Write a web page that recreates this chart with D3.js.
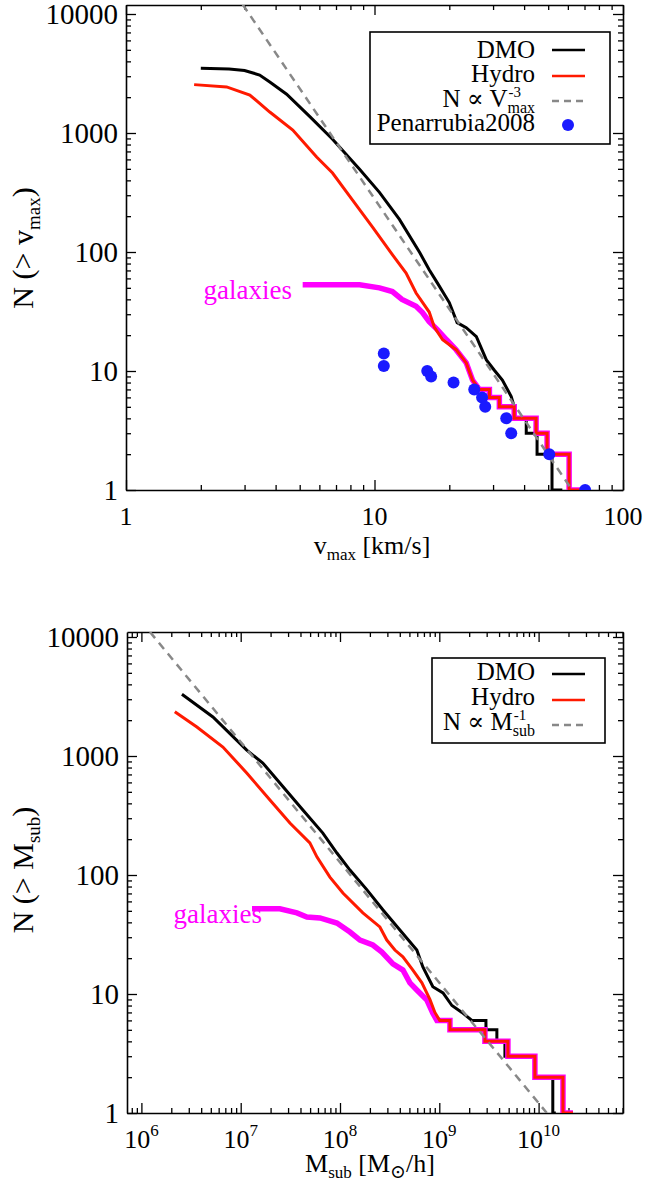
<!DOCTYPE html>
<html><head><meta charset="utf-8">
<script src="https://cdn.jsdelivr.net/npm/d3@7"></script>
<style>
body{margin:0;background:#fff}
svg{display:block}
</style>
</head><body>
<svg id="c" width="646" height="1188"></svg>
<script>
// ---------------- DATA ----------------
// Top panel: cumulative count N(>vmax)
const topDmoV = [2.0, 2.6, 3.0, 3.45, 3.79, 4.43, 5.48, 6.78, 8.71, 10.47, 12.6, 15.2, 16.6, 17.9, 20.0, 21.5, 23.4, 25.7, 28.2, 30.3, 32.7, 35.5, 36.5, 36.5, 40.8, 40.8, 45.1, 45.1, 51.8, 51.8, 57];
const topDmoN = [3500, 3450, 3350, 3070, 2680, 2120, 1380, 885, 495, 317, 188, 99, 71, 55, 37.6, 25.5, 23.1, 19.4, 12.4, 10.2, 8.4, 6.1, 5, 4, 4, 3, 3, 2, 2, 1, 1];
const topHydroV = [1.88, 2.54, 3.15, 3.79, 4.69, 5.85, 6.78, 8.16, 9.82, 11.8, 13.4, 14.7, 16.6, 17.4, 18.8, 21.3, 23.4, 24.8, 26.4, 29.0, 29.0, 31.8, 31.8, 36.5, 36.5, 44.7, 44.7, 49.5, 49.5, 60.7, 60.7, 73];
const topHydroN = [2550, 2440, 2085, 1500, 1060, 628, 461, 273, 162, 95, 66.6, 45.2, 31.3, 23.4, 18.3, 15.1, 11.7, 8.4, 7, 7, 6, 6, 5, 5, 4, 4, 3, 3, 2, 2, 1, 1];
const topGalV = [5.14, 8.71, 10.47, 11.8, 12.9, 14.7, 15.6, 16.6, 17.9, 19.5, 21.3, 23.4, 24.8, 26.4, 29.0, 29.0, 31.8, 31.8, 36.5, 36.5, 44.7, 44.7, 49.5, 49.5, 60.7, 60.7, 73];
const topGalN = [53, 53, 50, 46.5, 40, 35, 31, 26, 22.3, 18.3, 15.1, 11.7, 8.4, 7, 7, 6, 6, 5, 5, 4, 4, 3, 3, 2, 2, 1, 1];
const penV = [10.9, 10.9, 16.3, 16.9, 20.8, 25.2, 27.1, 27.9, 33.9, 35.5, 50.5, 70.4];
const penN = [14, 11, 10, 9, 8, 7, 6, 5, 4, 3, 2, 1];
const topPlawV = [2.95, 62.4];
const topPlawN = [12000, 1];
const topXTicks = [1, 10, 100];
const topXTickLabels = ["1", "10", "100"];
const yTicks = [1, 10, 100, 1000, 10000];
const yTickLabels = ["1", "10", "100", "1000", "10000"];

// Bottom panel: cumulative count N(>Msub)
const botDmoM = [2.56e6, 5.25e6, 1.15e7, 1.67e7, 2.48e7, 4.23e7, 6.72e7, 9.31e7, 1.26e8, 1.87e8, 2.7e8, 4.01e8, 5.94e8, 6.83e8, 8.61e8, 1.09e9, 1.34e9, 1.69e9, 2.13e9, 2.95e9, 2.95e9, 3.8e9, 3.8e9, 4.58e9, 4.58e9, 9.18e9, 9.18e9, 1.39e10, 1.39e10, 1.49e10];
const botDmoN = [3300, 2130, 1120, 873, 593, 352, 225, 153, 110, 75, 51, 34.5, 23.4, 16.9, 11.5, 10.2, 8, 7, 6, 6, 5, 5, 4, 4, 3, 3, 2, 2, 1, 1];
const botHydroM = [2.17e6, 3.62e6, 6.62e6, 1.15e7, 1.97e7, 3.13e7, 4.97e7, 5.85e7, 7.91e7, 1.07e8, 1.7e8, 2.52e8, 2.96e8, 3.57e8, 4.3e8, 5.42e8, 6.68e8, 8.04e8, 9.03e8, 1.01e9, 1.28e9, 1.28e9, 2.88e9, 2.88e9, 4.91e9, 4.91e9, 9.18e9, 9.18e9, 1.76e10, 1.76e10, 2.22e10];
const botHydroN = [2350, 1750, 1190, 720, 427, 273, 186, 142, 96, 70.6, 48, 36.6, 28.4, 23.4, 20.5, 15.9, 12.4, 9, 7, 6, 6, 5, 5, 4, 4, 3, 3, 2, 2, 1, 1];
const botGalM = [1.3e7, 2.48e7, 3.68e7, 4.64e7, 6.28e7, 9.31e7, 1.26e8, 1.59e8, 2.14e8, 2.64e8, 3.41e8, 4.3e8, 5.06e8, 5.94e8, 7.5e8, 8.61e8, 9.46e8, 1.28e9, 1.28e9, 2.88e9, 2.88e9, 4.91e9, 4.91e9, 9.18e9, 9.18e9, 1.76e10, 1.76e10, 2.22e10];
const botGalN = [52, 52, 48, 44.4, 43.6, 39.5, 33.2, 28.4, 25.8, 22.5, 17.9, 15.9, 12.4, 10.8, 8.9, 6.9, 6, 6, 5, 5, 4, 4, 3, 3, 2, 2, 1, 1];
const botPlawM = [1.22e6, 1.21e10];
const botPlawN = [11020, 1];
const botXTicks = [1e6, 1e7, 1e8, 1e9, 1e10];
const botXTickExp = ["6", "7", "8", "9", "10"];

// ---------------- DRAWING ----------------
const SERIF = '"Liberation Serif", Tinos, "Times New Roman", Times, "DejaVu Serif", serif';
const RED = '#ff1a00', MAG = '#ff00ff', BLUE = '#1a1aff', GRAY = '#888888';
const FS_YTICK = 29, FS_XTICK = 26, FS_YTITLE = 30, FS_XTITLE = 26, FS_LEG = 25;
const svg = d3.select('#c');
svg.append('rect').attr('width', 646).attr('height', 1188).attr('fill', '#fff');

function txt(parent) { return parent.append('text').style('font-family', SERIF); }
function isMajor(v) { const l = Math.log10(v); return Math.abs(l - Math.round(l)) < 1e-6; }

function panel(id, x, y) {
  const [x0, x1] = x.range(), [y0, y1] = y.range();
  svg.append('clipPath').attr('id', id).append('rect')
    .attr('x', x0).attr('y', y1).attr('width', x1 - x0).attr('height', y0 - y1);
  const xt = x.ticks(), yt = y.ticks();
  const xMaj = xt.filter(isMajor), xMin = xt.filter(v => !isMajor(v));
  const yMaj = yt.filter(isMajor), yMin = yt.filter(v => !isMajor(v));
  const g = svg.append('g');
  const ax = [
    [d3.axisBottom(x), `translate(0,${y0})`, xMaj, xMin],
    [d3.axisTop(x), `translate(0,${y1})`, xMaj, xMin],
    [d3.axisLeft(y), `translate(${x0},0)`, yMaj, yMin],
    [d3.axisRight(y), `translate(${x1},0)`, yMaj, yMin]
  ];
  ax.forEach(([a, tr, maj, mn]) => {
    g.append('g').attr('transform', tr)
      .call(a.tickValues(maj).tickSize(-10).tickSizeOuter(0).tickFormat(''))
      .call(s => { s.select('.domain').attr('stroke-width', 1.6); s.selectAll('line').attr('stroke-width', 1.3); });
    g.append('g').attr('transform', tr)
      .call(a.tickValues(mn).tickSize(-5).tickSizeOuter(0).tickFormat(''))
      .call(s => { s.select('.domain').remove(); s.selectAll('line').attr('stroke-width', 1.3); });
  });
  svg.append('g').selectAll('text').data(yTicks).join('text')
    .style('font-family', SERIF)
    .attr('x', x0 - 8).attr('y', d => y(d)).attr('dy', '0.34em')
    .attr('text-anchor', 'end').attr('font-size', FS_YTICK).text((d, i) => yTickLabels[i]);
  return svg.append('g').attr('clip-path', `url(#${id})`);
}

function drawLine(g, X, Y, xs, ys, color, width, dash) {
  const line = d3.line().x(d => X(d[0])).y(d => Y(d[1]));
  const p = g.append('path').datum(d3.zip(xs, ys)).attr('d', line)
    .attr('fill', 'none').attr('stroke', color).attr('stroke-width', width)
    .attr('stroke-linejoin', 'miter').attr('stroke-linecap', 'butt');
  if (dash) p.attr('stroke-dasharray', dash);
}

function measure(str, size) {
  const t = txt(svg).attr('font-size', size).text(str);
  const w = t.node().getComputedTextLength();
  t.remove();
  return w;
}

// ---- Top panel ----
const xT = d3.scaleLog().domain([1, 100]).range([126, 623]);
const yT = d3.scaleLog().domain([1, Math.pow(10, 485 / 119)]).range([490, 5]);
const gT = panel('clipTop', xT, yT);
drawLine(gT, xT, yT, topDmoV, topDmoN, '#000', 3);
drawLine(gT, xT, yT, topGalV, topGalN, MAG, 5.5);
drawLine(gT, xT, yT, topHydroV, topHydroN, RED, 3);
drawLine(gT, xT, yT, topPlawV, topPlawN, GRAY, 2.5, '8,6');
gT.selectAll('circle').data(d3.zip(penV, penN)).join('circle')
  .attr('cx', d => xT(d[0])).attr('cy', d => yT(d[1])).attr('r', 6).attr('fill', BLUE);

svg.append('g').selectAll('text').data(topXTicks).join('text')
  .style('font-family', SERIF)
  .attr('x', d => xT(d)).attr('y', 525).attr('text-anchor', 'middle')
  .attr('font-size', FS_XTICK).text((d, i) => topXTickLabels[i]);

{
  const t = txt(svg).attr('x', 372).attr('y', 554).attr('text-anchor', 'middle').attr('font-size', FS_XTITLE);
  t.append('tspan').text('v');
  t.append('tspan').attr('font-size', 17).attr('dy', 6).text('max');
  t.append('tspan').attr('dy', -6).text(' [km/s]');
}
function yTitle(cy, sym, sub) {
  const t = txt(svg).attr('transform', `translate(33,${cy}) rotate(-90)`)
    .attr('text-anchor', 'middle').attr('font-size', FS_YTITLE);
  t.append('tspan').text('N (> ' + sym);
  t.append('tspan').attr('font-size', 19).attr('dy', 7).text(sub);
  t.append('tspan').attr('dy', -7).text(')');
}
yTitle(248, 'v', 'max');

txt(svg).attr('x', 292).attr('y', 299).attr('text-anchor', 'end')
  .attr('font-size', 27).attr('fill', MAG).text('galaxies');

function legend(box, rows) {
  svg.append('rect').attr('x', box[0]).attr('y', box[1]).attr('width', box[2]).attr('height', box[3])
    .attr('fill', '#fff').attr('stroke', '#000').attr('stroke-width', 1.6);
  rows.forEach(r => {
    const t = txt(svg).attr('x', 535).attr('y', r.base).attr('font-size', FS_LEG).attr('text-anchor', 'end');
    t.append('tspan').text(r.label);
    if (r.sub) {
      const wsup = measure(r.sup, 15);
      t.append('tspan').attr('font-size', 15).attr('dx', 1).attr('dy', -10).text(r.sup);
      t.append('tspan').attr('font-size', 16).attr('dx', -wsup - 1).attr('dy', 16).text(r.sub);
    }
    if (r.type === 'line') {
      const l = svg.append('line').attr('x1', 552).attr('x2', 585).attr('y1', r.ly).attr('y2', r.ly)
        .attr('stroke', r.color).attr('stroke-width', 2.5);
      if (r.dash) l.attr('stroke-dasharray', r.dash);
    } else {
      svg.append('circle').attr('cx', 568).attr('cy', r.ly).attr('r', 6).attr('fill', r.color);
    }
  });
}
legend([370, 32, 240, 112], [
  { label: 'DMO', base: 58, ly: 50, type: 'line', color: '#000' },
  { label: 'Hydro', base: 82, ly: 76, type: 'line', color: RED },
  { label: 'N \u221D V', sup: '-3', sub: 'max', base: 107, ly: 101, type: 'line', color: GRAY, dash: '7,5' },
  { label: 'Penarrubia2008', base: 131, ly: 125, type: 'dot', color: BLUE }
]);

// ---- Bottom panel ----
const xB = d3.scaleLog().domain([Math.pow(10, 5.855), Math.pow(10, 10.85)]).range([127, 623]);
const yB = d3.scaleLog().domain([1, Math.pow(10, 481 / 119)]).range([1113, 632]);
const gB = panel('clipBot', xB, yB);
drawLine(gB, xB, yB, botDmoM, botDmoN, '#000', 3);
drawLine(gB, xB, yB, botGalM, botGalN, MAG, 5.5);
drawLine(gB, xB, yB, botHydroM, botHydroN, RED, 3);
drawLine(gB, xB, yB, botPlawM, botPlawN, GRAY, 2.5, '8,6');

const xl = svg.append('g').selectAll('text').data(botXTicks).join('text')
  .style('font-family', SERIF)
  .attr('x', d => xB(d)).attr('y', 1148).attr('text-anchor', 'middle').attr('font-size', FS_XTICK);
xl.append('tspan').text('10');
xl.append('tspan').attr('font-size', 17).attr('dy', -12).text((d, i) => botXTickExp[i]);

{
  const t = txt(svg).attr('x', 370).attr('y', 1172).attr('text-anchor', 'middle').attr('font-size', FS_XTITLE);
  t.append('tspan').text('M');
  t.append('tspan').attr('font-size', 17).attr('dy', 6).text('sub');
  t.append('tspan').attr('dy', -6).text(' [M');
  t.append('tspan').attr('font-size', 19).attr('dy', 6).text('\u2299');
  t.append('tspan').attr('dy', -6).text('/h]');
}
yTitle(870, 'M', 'sub');

txt(svg).attr('x', 262).attr('y', 923).attr('text-anchor', 'end')
  .attr('font-size', 27).attr('fill', MAG).text('galaxies');

legend([432, 658, 173, 85], [
  { label: 'DMO', base: 680, ly: 674, type: 'line', color: '#000' },
  { label: 'Hydro', base: 705, ly: 700, type: 'line', color: RED },
  { label: 'N \u221D M', sup: '-1', sub: 'sub', base: 730, ly: 725, type: 'line', color: GRAY, dash: '7,5' }
]);
</script>
</body></html>
